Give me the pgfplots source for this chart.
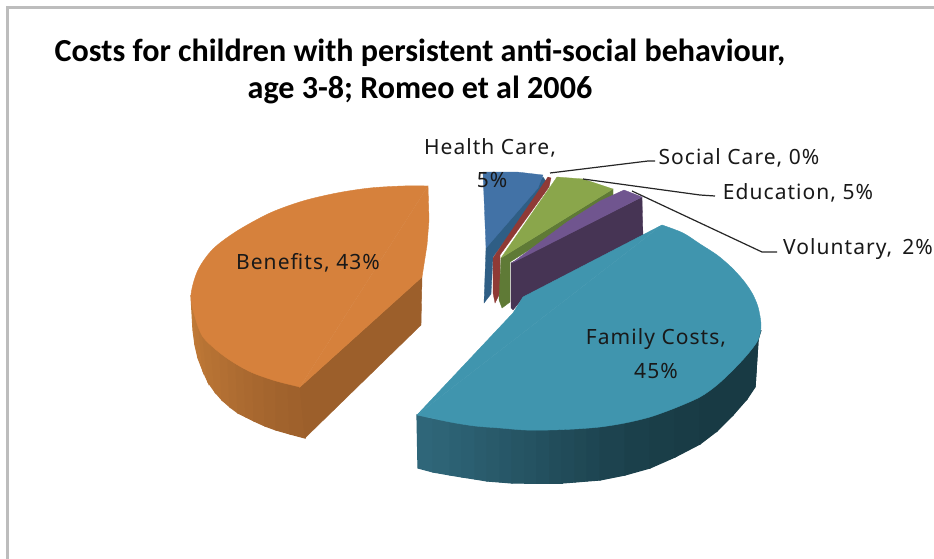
\documentclass[border=0pt]{standalone}
\usepackage{pgfplots}
\usepackage{fontspec}
\pgfplotsset{compat=1.18}
\setmainfont[LetterSpace=5]{Noto Sans}
\newfontfamily\titlefont{Carlito}
\definecolor{benefits}{HTML}{D6813C}
\definecolor{benL}{HTML}{C27B38}
\definecolor{benD}{HTML}{9C5F2B}
\definecolor{family}{HTML}{4095AE}
\definecolor{famL}{HTML}{2F6679}
\definecolor{famD}{HTML}{183A44}
\definecolor{health}{HTML}{4272A6}
\definecolor{healthD}{HTML}{2F5E85}
\definecolor{social}{HTML}{8F3A36}
\definecolor{edu}{HTML}{8AA64B}
\definecolor{eduD}{HTML}{5F7A36}
\definecolor{vol}{HTML}{70558F}
\definecolor{volD}{HTML}{463454}
\definecolor{frame}{HTML}{BDBDBD}
% one side strip of a slice: colour, then x/y of four corners
\newcommand{\strip}[9]{\addplot[fill=#1, draw=#1, line width=1.2pt] coordinates {(#2,#3) (#4,#5) (#6,#7) (#8,#9)} -- cycle;}
\begin{document}
\begin{tikzpicture}
\begin{axis}[
    scale only axis, width=934pt, height=559pt,
    xmin=0, xmax=934, ymin=0, ymax=559, y dir=reverse,
    hide axis, clip=true,
    nodes={font=\fontsize{21}{25}\selectfont, text=black!90}
]
% keeps the page as large as the axis
\addplot[fill=white, draw=none] coordinates {(0,0) (934,0) (934,559) (0,559)} -- cycle;
% chart frame
\addplot[frame, line width=3pt] coordinates {(7,559) (7,8) (934,8)};

% Benefits
\strip{benL!100!benD}{191}{295}{193}{306}{195}{345}{193}{330}
\strip{benL!93!benD}{193}{306}{195}{317}{198}{358}{195}{345}
\strip{benL!86!benD}{195}{317}{199}{327}{203}{371}{198}{358}
\strip{benL!79!benD}{199}{327}{203}{337}{208}{382}{203}{371}
\strip{benL!72!benD}{203}{337}{211}{345}{215}{392}{208}{382}
\strip{benL!65!benD}{211}{345}{220}{353}{222}{400}{215}{392}
\strip{benL!58!benD}{220}{353}{228}{359}{230}{407}{222}{400}
\strip{benL!50!benD}{228}{359}{236}{364}{238}{413}{230}{407}
\strip{benL!43!benD}{236}{364}{244}{369}{246}{417}{238}{413}
\strip{benL!36!benD}{244}{369}{253}{373}{254}{421}{246}{417}
\strip{benL!29!benD}{253}{373}{264}{377}{265}{426}{254}{421}
\strip{benL!22!benD}{264}{377}{276}{381}{276}{430}{265}{426}
\strip{benL!14!benD}{276}{381}{288}{384}{290}{434}{276}{430}
\strip{benL!7!benD}{288}{384}{300}{387}{305}{438}{290}{434}
\addplot[fill=benD, draw=benD, line width=0.4pt] coordinates {(300,387) (422,277) (421,325) (305,438)} -- cycle;
\addplot[fill=benefits, draw=benefits, line width=0.4pt] coordinates {(300,387) (422,277) (427,245) (429,220) (428,186)} -- cycle;
\addplot[fill=benefits, draw=benefits, line width=0.4pt, smooth] coordinates {
 (428,186) (403,186) (370,188) (337,193) (303,201) (270,213) (237,231) (213,249)
 (198,270) (191,295) (195,317) (203,337) (220,353) (236,364) (253,373) (276,381)
 (300,387)};

% Health Care
\addplot[fill=healthD, draw=healthD, line width=0.3pt] coordinates {(543,177) (486,248) (484,303) (491,294) (493,257) (547,183)} -- cycle;
\addplot[fill=health, draw=health, line width=0.3pt] coordinates {(483,172) (517,172) (543,175) (538,188) (486,248)} -- cycle;
% Social Care
\addplot[fill=social, draw=social, line width=0.3pt] coordinates {(548,177) (551,178) (549,187) (500,255) (500,293) (495,303) (493,293) (493,258)} -- cycle;
% Education
\addplot[fill=eduD, draw=eduD, line width=0.3pt] coordinates {(613,189) (613,197) (510,262) (510,302) (502,308) (499,300) (501,258)} -- cycle;
\addplot[fill=edu, draw=edu, line width=0.3pt] coordinates {(557,177) (583,179) (613,189) (501,258)} -- cycle;
% Voluntary
\addplot[fill=volD, draw=volD, line width=0.3pt] coordinates {(642,197) (643,237) (523,298) (513,310) (511,308) (511,263)} -- cycle;
\addplot[fill=vol, draw=vol, line width=0.3pt] coordinates {(624,190) (642,197) (512,263) (567,222) (600,201)} -- cycle;

% Family Costs
\strip{famL!100!famD}{417}{415}{433}{419}{433}{472}{418}{468}
\strip{famL!95!famD}{433}{419}{450}{422}{450}{475}{433}{472}
\strip{famL!89!famD}{450}{422}{462}{424}{462}{477}{450}{475}
\strip{famL!84!famD}{462}{424}{475}{426}{475}{479}{462}{477}
\strip{famL!78!famD}{475}{426}{487}{427}{487}{481}{475}{479}
\strip{famL!72!famD}{487}{427}{500}{428}{500}{482}{487}{481}
\strip{famL!67!famD}{500}{428}{512}{429}{512}{483}{500}{482}
\strip{famL!61!famD}{512}{429}{525}{430}{525}{483}{512}{483}
\strip{famL!56!famD}{525}{430}{537}{430}{537}{483}{525}{483}
\strip{famL!50!famD}{537}{430}{550}{430}{550}{483}{537}{483}
\strip{famL!44!famD}{550}{430}{562}{430}{562}{483}{550}{483}
\strip{famL!39!famD}{562}{430}{575}{429}{575}{482}{562}{483}
\strip{famL!33!famD}{575}{429}{587}{428}{587}{481}{575}{482}
\strip{famL!28!famD}{587}{428}{600}{427}{600}{480}{587}{481}
\strip{famL!20!famD}{600}{427}{625}{423}{625}{475}{600}{480}
\strip{famL!14!famD}{625}{423}{650}{417}{650}{468}{625}{475}
\strip{famL!8!famD}{650}{417}{675}{408}{675}{457}{650}{468}
\strip{famL!4!famD}{675}{408}{700}{397}{700}{444}{675}{457}
\strip{famD}{700}{397}{717}{385}{717}{431}{700}{444}
\strip{famD}{717}{385}{733}{370}{733}{415}{717}{431}
\strip{famD}{733}{370}{747}{355}{747}{399}{733}{415}
\strip{famD}{747}{355}{758}{340}{755}{387}{747}{399}
\strip{famD}{758}{340}{761}{330}{758}{340}{755}{387}
\addplot[fill=family, draw=family, line width=0.4pt] coordinates {(417,415) (513,313) (523,297) (662,225)} -- cycle;
\addplot[fill=family, draw=family, line width=0.4pt, smooth] coordinates {
 (662,225) (683,233) (700,244) (717,255) (731,267) (743,280) (752,293) (758,307)
 (761,325) (758,340) (747,355) (733,370) (717,385) (700,397) (675,408) (650,417)
 (625,423) (600,427) (575,429) (550,430) (525,430) (500,428) (475,426) (450,422)
 (417,415)};

% leader lines
\addplot[black!85, line width=1.2pt] coordinates {(550,173) (648,161) (655,161)};
\addplot[black!85, line width=1.2pt] coordinates {(583,179) (700,195) (715,196)};
\addplot[black!85, line width=1.2pt] coordinates {(632,191) (762,252) (777,252)};

% title
\node[font=\titlefont\bfseries\fontsize{32.1}{38}\selectfont, text=black, anchor=center] at (axis cs:420,53) {Costs for children with persistent anti-social behaviour,};
\node[font=\titlefont\bfseries\fontsize{32.1}{38}\selectfont, text=black, anchor=center] at (axis cs:420,90) {age 3-8; Romeo et al 2006};

% data labels
\node at (axis cs:490,148) {Health Care,};
\node at (axis cs:492,180) {5\%};
\node at (axis cs:739,158) {Social Care, 0\%};
\node at (axis cs:798,193) {Education, 5\%};
\node at (axis cs:858,249) {Voluntary, \,2\%};
\node at (axis cs:308,263) {Benefits, 43\%};
\node at (axis cs:656,339) {Family Costs,};
\node at (axis cs:656,371) {45\%};
\end{axis}
\end{tikzpicture}
\end{document}
